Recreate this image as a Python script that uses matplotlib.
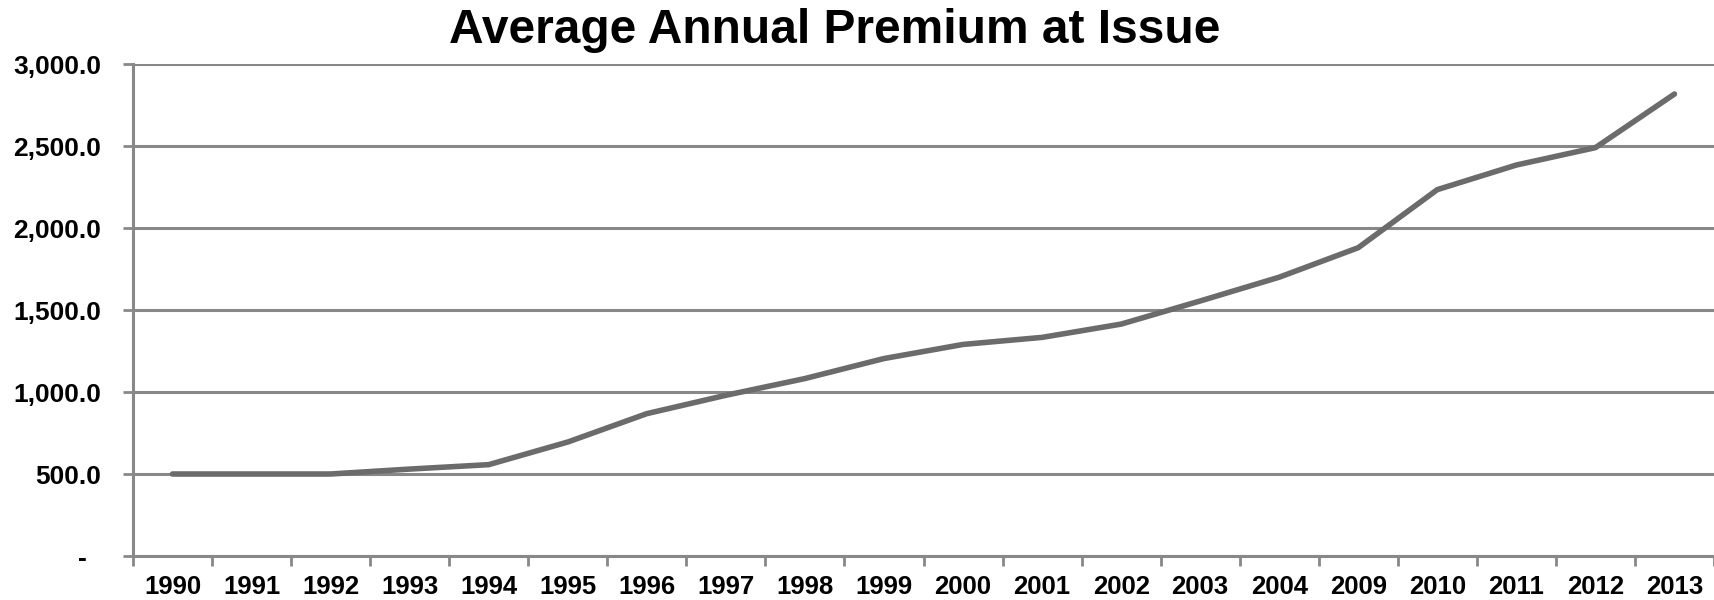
import matplotlib
matplotlib.use("Agg")
import matplotlib.pyplot as plt
import numpy as np

# data
years = ["1990", "1991", "1992", "1993", "1994", "1995", "1996", "1997", "1998", "1999",
         "2000", "2001", "2002", "2003", "2004", "2009", "2010", "2011", "2012", "2013"]
premium = [500, 500, 500, 530, 557, 695, 868, 980, 1082, 1204,
           1290, 1333, 1414, 1555, 1700, 1880, 2234, 2384, 2490, 2817]
y_ticks = [0, 500, 1000, 1500, 2000, 2500, 3000]
y_labels = ["-  ", "500.0", "1,000.0", "1,500.0", "2,000.0", "2,500.0", "3,000.0"]

GRID = "#888888"
LINE = "#6b6b6b"

plt.rcParams["font.family"] = ["Liberation Sans", "DejaVu Sans"]

fig = plt.figure(figsize=(17.14, 6.0), dpi=100)
ax = fig.add_axes([133 / 1714, 1 - 556 / 600, 1 - 133 / 1714, (556 - 64) / 600])

x = np.arange(len(years))
ax.plot(x, premium, color=LINE, lw=4.0, solid_capstyle="round", solid_joinstyle="round", zorder=3)

ax.set_xlim(-0.5, len(years) - 0.5)
ax.set_ylim(0, 3000)

# category boundaries carry the tick marks, centres carry the labels
ax.set_xticks(np.arange(len(years) + 1) - 0.5)
ax.set_xticklabels([])
ax.set_xticks(x, minor=True)
ax.set_xticklabels(years, minor=True)
ax.tick_params(axis="x", which="major", direction="out", length=7.5, width=2, color=GRID)
ax.tick_params(axis="x", which="minor", length=0, pad=13.5, labelsize=18.5)

ax.set_yticks(y_ticks)
ax.set_yticklabels(y_labels)
ax.tick_params(axis="y", direction="out", length=7.5, width=2, color=GRID, pad=15.5, labelsize=19)
for lab in ax.get_xticklabels(minor=True) + ax.get_yticklabels():
    lab.set_fontweight("bold")

ax.grid(axis="y", color=GRID, lw=2.2)
ax.set_axisbelow(True)
for side in ["top", "right"]:
    ax.spines[side].set_visible(False)
for side in ["left", "bottom"]:
    ax.spines[side].set_color(GRID)
    ax.spines[side].set_linewidth(2.2)

fig.text(835 / 1714, 1 - 43 / 600, "Average Annual Premium at Issue",
         ha="center", va="baseline", fontsize=34.5, fontweight="bold")

fig.savefig("out.png", dpi=100)
